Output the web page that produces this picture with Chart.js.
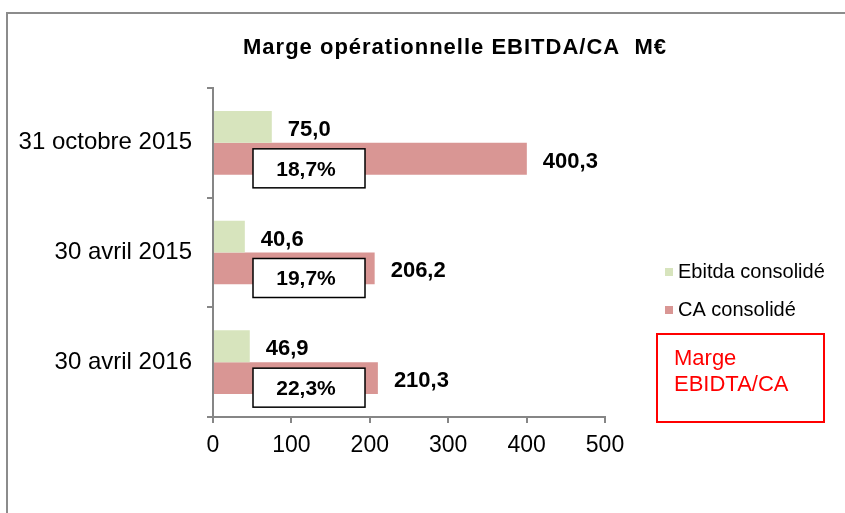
<!DOCTYPE html>
<html lang="fr">
<head>
<meta charset="utf-8">
<title>Marge opérationnelle EBITDA/CA</title>
<script src="https://cdn.jsdelivr.net/npm/chart.js@4"></script>
<style>
    html, body { margin: 0; padding: 0; background: #fff; }
    canvas { display: block; }
</style>
</head>
<body>
<canvas id="margeChart" width="845" height="513"></canvas>
<script>
const categories = ['31 octobre 2015', '30 avril 2015', '30 avril 2016'];
const ebitda = [75.0, 40.6, 46.9];
const ca = [400.3, 206.2, 210.3];
const marge = [18.7, 19.7, 22.3];
const xTicks = [0, 100, 200, 300, 400, 500];

const FONT = "'Liberation Sans', Arial, sans-serif";
const frFormat = v => v.toFixed(1).replace('.', ',');

const decor = {
    id: 'decor',
    afterDraw(chart) {
        const { ctx } = chart;
        const xScale = chart.scales.x;
        const yScale = chart.scales.y;
        ctx.save();

        // outer frame (top and left only)
        ctx.strokeStyle = '#8c8c8c';
        ctx.lineWidth = 2;
        ctx.beginPath();
        ctx.moveTo(845, 13);
        ctx.lineTo(7, 13);
        ctx.lineTo(7, 513);
        ctx.stroke();

        // title
        ctx.fillStyle = '#000';
        ctx.font = `bold 22px ${FONT}`;
        ctx.letterSpacing = '1px';
        ctx.textAlign = 'center';
        ctx.textBaseline = 'alphabetic';
        ctx.fillText('Marge opérationnelle EBITDA/CA  M€', 455, 54);
        ctx.letterSpacing = '0px';

        // value labels next to each bar
        ctx.font = `bold 22px ${FONT}`;
        ctx.textAlign = 'left';
        ctx.textBaseline = 'middle';
        chart.data.datasets.forEach((ds, i) => {
            chart.getDatasetMeta(i).data.forEach((bar, j) => {
                ctx.fillText(frFormat(ds.data[j]), bar.x + 16, bar.y + 3);
            });
        });

        // margin boxes
        ctx.font = `bold 21px ${FONT}`;
        marge.forEach((m, j) => {
            const cy = yScale.getPixelForValue(j);
            const left = xScale.getPixelForValue(0) + 40;
            const top = cy + 6;
            ctx.fillStyle = '#fff';
            ctx.fillRect(left, top, 112, 39);
            ctx.strokeStyle = '#000';
            ctx.lineWidth = 1.5;
            ctx.strokeRect(left, top, 112, 39);
            ctx.fillStyle = '#000';
            ctx.textAlign = 'center';
            ctx.fillText(frFormat(m) + '%', left + 53, top + 21);
        });

        // legend
        ctx.font = `20px ${FONT}`;
        ctx.textAlign = 'left';
        chart.data.datasets.forEach((ds, i) => {
            const cy = 272 + i * 38;
            ctx.fillStyle = ds.backgroundColor;
            ctx.fillRect(665, cy - 4, 8, 8);
            ctx.fillStyle = '#000';
            ctx.fillText(ds.label, 678, cy);
        });

        // red margin legend box
        ctx.strokeStyle = '#ff0000';
        ctx.lineWidth = 2;
        ctx.strokeRect(657, 334, 167, 88);
        ctx.fillStyle = '#ff0000';
        ctx.font = `22px ${FONT}`;
        ctx.textBaseline = 'alphabetic';
        ctx.fillText('Marge', 674, 365);
        ctx.fillText('EBIDTA/CA', 674, 391);

        ctx.restore();
    }
};

new Chart(document.getElementById('margeChart'), {
    type: 'bar',
    data: {
        labels: categories,
        datasets: [{
            label: 'Ebitda consolidé',
            data: ebitda,
            backgroundColor: '#d7e4bd',
            categoryPercentage: 0.58,
            barPercentage: 1
        }, {
            label: 'CA consolidé',
            data: ca,
            backgroundColor: '#d99694',
            categoryPercentage: 0.58,
            barPercentage: 1
        }]
    },
    options: {
        indexAxis: 'y',
        responsive: false,
        animation: false,
        layout: { padding: { top: 88, right: 240, bottom: 56, left: 0 } },
        scales: {
            x: {
                min: xTicks[0],
                max: xTicks[xTicks.length - 1],
                afterBuildTicks: scale => { scale.ticks = xTicks.map(v => ({ value: v })); },
                ticks: { color: '#000', padding: 9, font: { family: FONT, size: 23 } },
                grid: { drawOnChartArea: false, tickLength: 6, color: '#868686', lineWidth: 2 },
                border: { color: '#868686', width: 2 },
                afterFit: scale => { scale.height = 40; }
            },
            y: {
                ticks: { color: '#000', padding: 15, font: { family: FONT, size: 24 } },
                grid: { drawOnChartArea: false, tickLength: 6, offset: true, color: '#868686', lineWidth: 2 },
                border: { color: '#868686', width: 2 },
                afterFit: scale => { scale.width = 213; }
            }
        },
        plugins: {
            legend: { display: false },
            title: { display: false },
            tooltip: { enabled: false }
        }
    },
    plugins: [decor]
});
</script>
</body>
</html>
